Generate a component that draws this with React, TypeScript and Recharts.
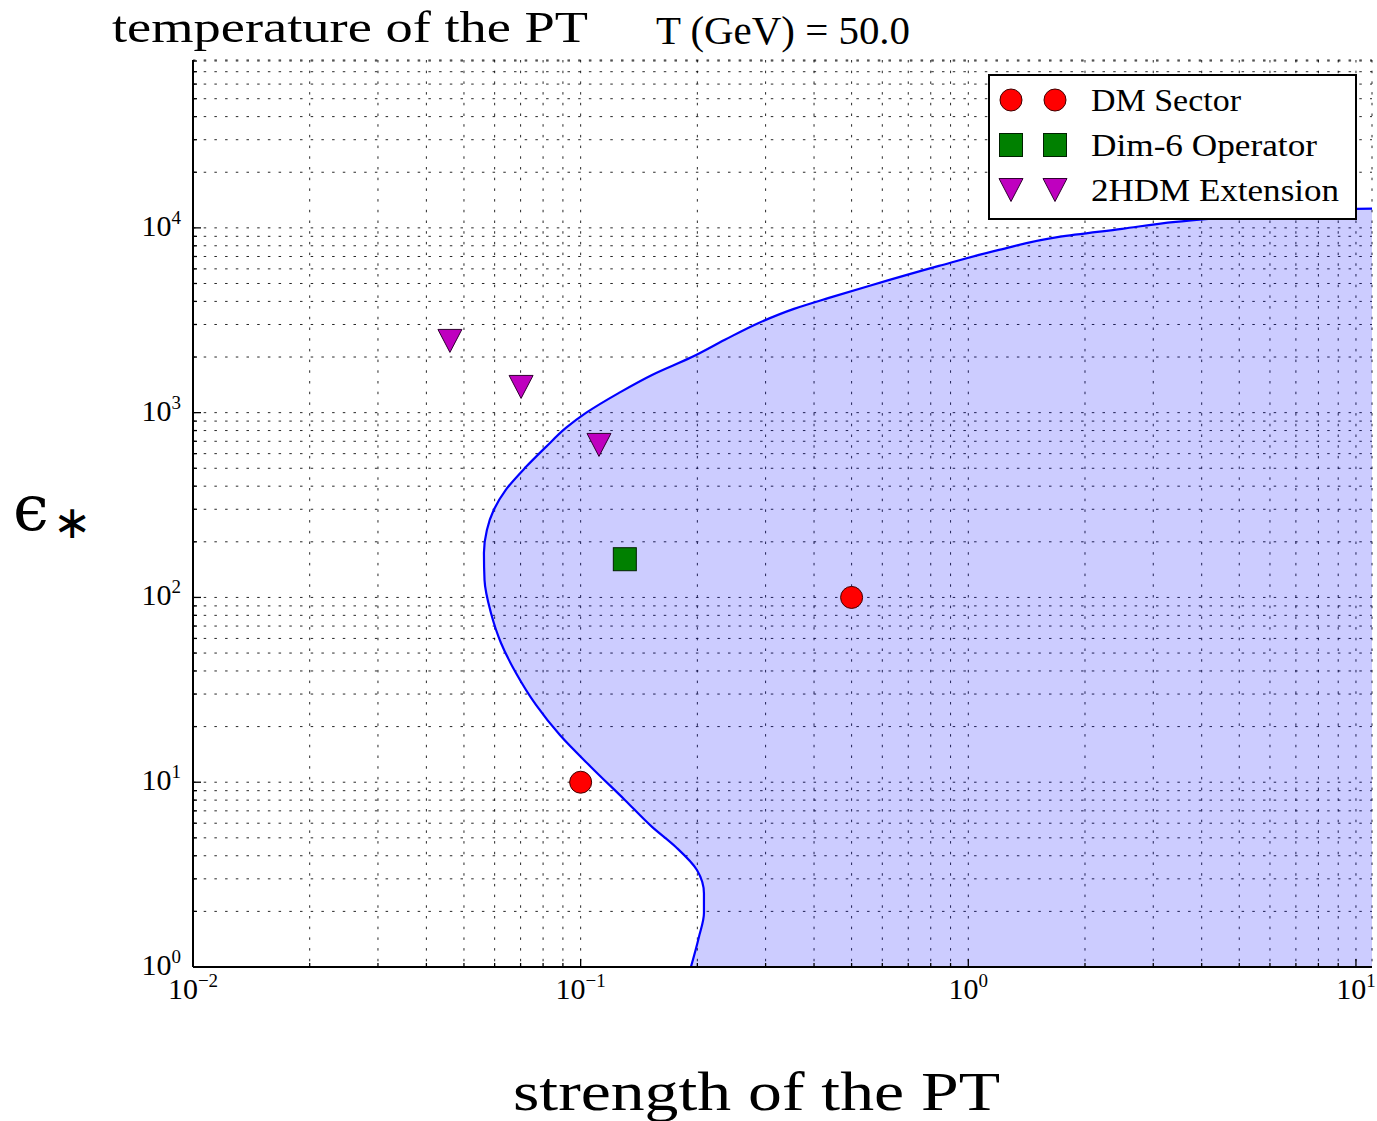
import React from 'react';
import { ComposedChart, Area, Scatter, XAxis, YAxis, CartesianGrid, Legend } from 'recharts';

// boundary of the shaded region (strength x, epsilon y), ordered by y
const boundaryX = [0.1925, 0.2018, 0.208, 0.208, 0.1995, 0.176, 0.1528, 0.130, 0.1063, 0.0884, 0.0767, 0.0681, 0.0623, 0.0587, 0.0565, 0.0563, 0.0573, 0.0597, 0.0641, 0.0723, 0.0814, 0.0916, 0.1032, 0.1256, 0.1528, 0.1936, 0.2355, 0.288, 0.355, 0.437, 0.554, 0.84, 1.2, 1.713, 2.49, 3.43, 5.3, 10, 11];
const boundaryY = [1, 1.45, 1.96, 2.5, 3.35, 4.46, 5.73, 8.02, 12.1, 18.0, 26.2, 39, 56.7, 82.4, 124, 174, 232, 298, 382, 509, 653, 827, 997, 1280, 1600, 2000, 2480, 3060, 3645, 4180, 4850, 6225, 7600, 8940, 9880, 10770, 11600, 12680, 12700];

const dmX = [0.1, 0.5];
const dmY = [10, 100];
const dim6X = [0.13];
const dim6Y = [161];
const hdmX = [0.046, 0.0702, 0.1115];
const hdmY = [2445, 1378, 669];

const xTicks = [0.01, 0.02, 0.03, 0.04, 0.05, 0.06, 0.07, 0.08, 0.09, 0.1, 0.2, 0.3, 0.4, 0.5, 0.6, 0.7, 0.8, 0.9, 1, 2, 3, 4, 5, 6, 7, 8, 9, 10];
const yTicks = [1, 2, 3, 4, 5, 6, 7, 8, 9, 10, 20, 30, 40, 50, 60, 70, 80, 90, 100, 200, 300, 400, 500, 600, 700, 800, 900, 1000, 2000, 3000, 4000, 5000, 6000, 7000, 8000, 9000, 10000, 20000, 30000, 40000, 50000, 60000, 70000, 80000];

const X_DOMAIN = [0.01, 11];
const Y_DOMAIN = [1, 81000];

const SERIF = '"Liberation Serif", "DejaVu Serif", serif';

const toPoints = (xs: number[], ys: number[]) => xs.map((x, i) => ({ x, y: ys[i] }));

const exponentOf = (v: number) => {
  const e = Math.log10(v);
  return Math.abs(e - Math.round(e)) < 1e-9 ? Math.round(e) : null;
};

const expLabel = (e: number) => (e < 0 ? '\u2212' + Math.abs(e) : String(e));

const BottomTick = (props: any) => {
  const { x, y, payload } = props;
  const e = exponentOf(payload.value);
  const len = e === null ? 4 : 8;
  return (
    <g>
      <line x1={x} x2={x} y1={y} y2={y - len} stroke="#000" strokeWidth={1.3} />
      {e !== null && (
        <text x={x} y={y + 32} textAnchor="middle" fontFamily={SERIF} fontSize={30} fill="#000">
          10<tspan dy={-12} fontSize={19}>{expLabel(e)}</tspan>
        </text>
      )}
    </g>
  );
};

const TopTick = (props: any) => {
  const { x, y, payload } = props;
  const len = exponentOf(payload.value) === null ? 4 : 8;
  return <line x1={x} x2={x} y1={y} y2={y + len} stroke="#000" strokeWidth={1.3} />;
};

const LeftTick = (props: any) => {
  const { x, y, payload } = props;
  const e = exponentOf(payload.value);
  const len = e === null ? 4 : 8;
  return (
    <g>
      <line x1={x} x2={x + len} y1={y} y2={y} stroke="#000" strokeWidth={1.3} />
      {e !== null && (
        <text x={x - 12} y={y + 8} textAnchor="end" fontFamily={SERIF} fontSize={30} fill="#000">
          10<tspan dy={-12} fontSize={19}>{expLabel(e)}</tspan>
        </text>
      )}
    </g>
  );
};

const RightTick = (props: any) => {
  const { x, y, payload } = props;
  const len = exponentOf(payload.value) === null ? 4 : 8;
  return <line x1={x} x2={x - len} y1={y} y2={y} stroke="#000" strokeWidth={1.3} />;
};

const CircleMark = (p: any) => <circle cx={p.cx} cy={p.cy} r={11} fill="#ff0000" stroke="#400000" strokeWidth={1} />;
const SquareMark = (p: any) => <rect x={p.cx - 11.5} y={p.cy - 11.5} width={23} height={23} fill="#008000" stroke="#002000" strokeWidth={1} />;
const TriangleMark = (p: any) => (
  <polygon
    points={`${p.cx - 12},${p.cy - 11.5} ${p.cx + 12},${p.cy - 11.5} ${p.cx},${p.cy + 11.5}`}
    fill="#bf00bf"
    stroke="#300030"
    strokeWidth={1}
  />
);

const legendRows = [
  { name: 'DM Sector', Mark: CircleMark, width: 150 },
  { name: 'Dim-6 Operator', Mark: SquareMark, width: 226 },
  { name: '2HDM Extension', Mark: TriangleMark, width: 248 },
];

const renderLegend = () => (
  <svg width={369} height={146} style={{ display: 'block' }}>
    <rect x={1} y={1} width={367} height={144} fill="#fff" stroke="#000" strokeWidth={2} />
    {legendRows.map((row, i) => {
      const cy = 26 + i * 45;
      return (
        <g key={row.name}>
          <row.Mark cx={23} cy={cy} />
          <row.Mark cx={67} cy={cy} />
          <text x={103} y={cy + 11} fontFamily={SERIF} fontSize={31} fill="#000" textLength={row.width} lengthAdjust="spacingAndGlyphs">
            {row.name}
          </text>
        </g>
      );
    })}
  </svg>
);

export default function App() {
  const boundary = toPoints(boundaryX, boundaryY);

  return (
    <div style={{ position: 'absolute', left: 0, top: 0, width: 1377, height: 1121, background: '#fff' }}>
      <ComposedChart
        width={1377}
        height={1121}
        layout="vertical"
        margin={{ top: 60, right: 5, bottom: 104, left: 133 }}
      >
        <CartesianGrid stroke="#000" strokeWidth={1} strokeDasharray="2.5 8.2" strokeOpacity={0.85} />
        <XAxis
          xAxisId={0}
          type="number"
          dataKey="x"
          scale="log"
          domain={X_DOMAIN}
          allowDataOverflow
          ticks={xTicks}
          interval={0}
          height={50}
          tickSize={0}
          tickMargin={0}
          tickLine={false}
          tick={<BottomTick />}
          axisLine={{ stroke: '#000', strokeWidth: 2 }}
        />
        <XAxis
          xAxisId="top"
          orientation="top"
          type="number"
          dataKey="x"
          scale="log"
          domain={X_DOMAIN}
          allowDataOverflow
          ticks={xTicks}
          interval={0}
          height={0}
          tickSize={0}
          tickMargin={0}
          tickLine={false}
          tick={<TopTick />}
          axisLine={{ stroke: '#000', strokeWidth: 2 }}
        />
        <YAxis
          yAxisId={0}
          type="number"
          dataKey="y"
          scale="log"
          domain={Y_DOMAIN}
          allowDataOverflow
          reversed
          ticks={yTicks}
          interval={0}
          width={60}
          tickSize={0}
          tickMargin={0}
          tickLine={false}
          tick={<LeftTick />}
          axisLine={{ stroke: '#000', strokeWidth: 2 }}
        />
        <YAxis
          yAxisId="right"
          orientation="right"
          type="number"
          dataKey="y"
          scale="log"
          domain={Y_DOMAIN}
          allowDataOverflow
          reversed
          ticks={yTicks}
          interval={0}
          width={0}
          tickSize={0}
          tickMargin={0}
          tickLine={false}
          tick={<RightTick />}
          axisLine={{ stroke: '#000', strokeWidth: 2 }}
        />
        <Area
          data={boundary}
          dataKey="x"
          type="monotone"
          baseValue="dataMax"
          stroke="#0000ff"
          strokeWidth={2.2}
          fill="#0000ff"
          fillOpacity={0.2}
          legendType="none"
          isAnimationActive={false}
        />
        <Scatter name="DM Sector" data={toPoints(dmX, dmY)} shape={CircleMark} isAnimationActive={false} />
        <Scatter name="Dim-6 Operator" data={toPoints(dim6X, dim6Y)} shape={SquareMark} isAnimationActive={false} />
        <Scatter name="2HDM Extension" data={toPoints(hdmX, hdmY)} shape={TriangleMark} isAnimationActive={false} />
        <Legend
          layout="vertical"
          align="center"
          verticalAlign="middle"
          content={renderLegend}
          wrapperStyle={{ left: 988, top: 74, right: 'auto', bottom: 'auto', width: 369, height: 146 }}
        />
      </ComposedChart>
      <svg width={1377} height={1121} style={{ position: 'absolute', left: 0, top: 0, pointerEvents: 'none' }}>
        <text x={112} y={42} fontFamily={SERIF} fontSize={44} fill="#000" textLength={476} lengthAdjust="spacingAndGlyphs">
          temperature of the PT
        </text>
        <text x={656} y={44} fontFamily={SERIF} fontSize={40} fill="#000" textLength={254} lengthAdjust="spacingAndGlyphs">
          T (GeV) = 50.0
        </text>
        <text x={513} y={1110} fontFamily={SERIF} fontSize={54} fill="#000" textLength={487} lengthAdjust="spacingAndGlyphs">
          strength of the PT
        </text>
        <text x={13} y={530} fontFamily='"DejaVu Serif", serif' fontSize={64} fill="#000">
          {'\u03f5'}
        </text>
        <text x={53} y={538} fontFamily='"DejaVu Sans", sans-serif' fontSize={46} fill="#000">
          {'\u2217'}
        </text>
      </svg>
    </div>
  );
}
